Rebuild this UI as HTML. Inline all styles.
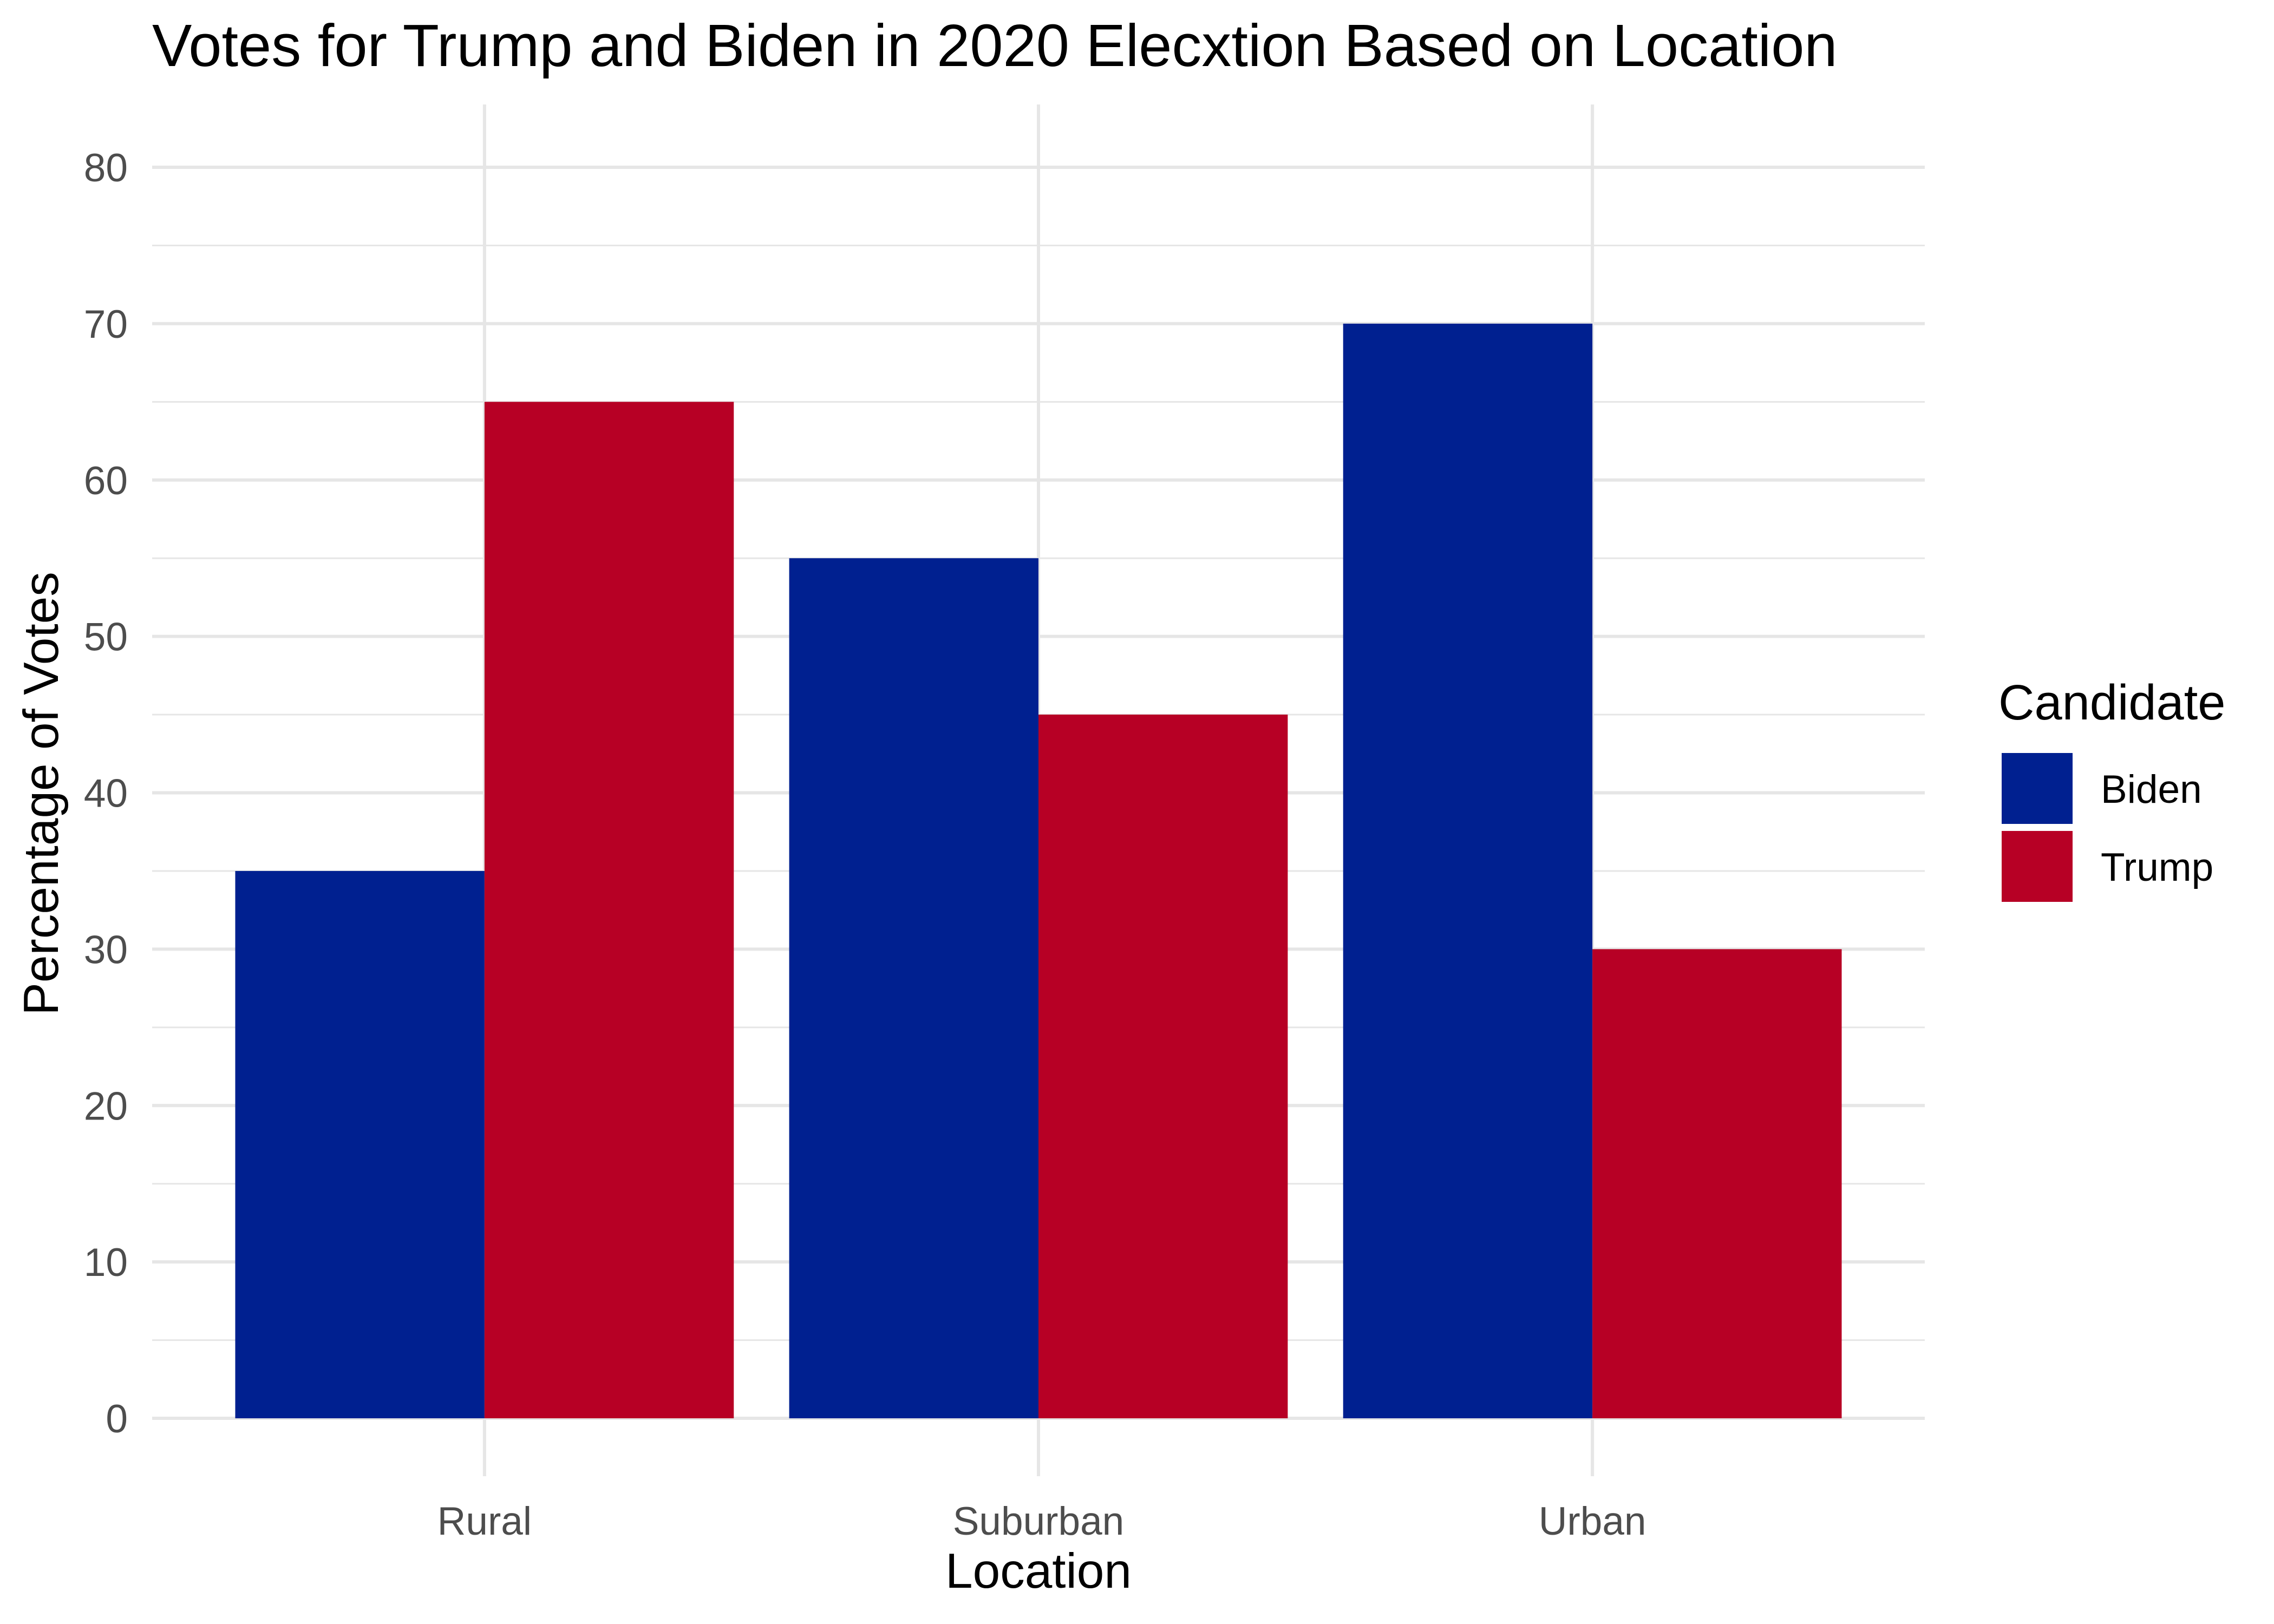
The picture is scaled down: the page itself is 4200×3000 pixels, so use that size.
<!DOCTYPE html>
<html><head><meta charset="utf-8"><style>
html,body{margin:0;padding:0;background:#fff;}
svg{display:block;font-family:"Liberation Sans",Arial,sans-serif;}
</style></head><body>
<svg id="chart" width="4200" height="3000" viewBox="0 0 4200 3000">
<text x="281" y="122" font-size="110" fill="#000">Votes for Trump and Biden in 2020 Elecxtion Based on Location</text>
<g id="grid"></g>
<g id="bars"></g>
<g id="yticks"></g>
<g id="xticks"></g>
<text x="1918" y="2933" font-size="91" text-anchor="middle" fill="#000">Location</text>
<text transform="translate(107,1466) rotate(-90)" font-size="91" text-anchor="middle" fill="#000">Percentage of Votes</text>
<g>
<text x="3691" y="1329" font-size="92" fill="#000">Candidate</text>
<rect x="3697" y="1391" width="131" height="131" fill="#002090"/>
<text x="3880" y="1483" font-size="73" fill="#000">Biden</text>
<rect x="3697" y="1535" width="131" height="131" fill="#b70025"/>
<text x="3880" y="1627" font-size="73" fill="#000">Trump</text>
</g>
</svg>
<script>
const categories = ["Rural","Suburban","Urban"];
const bidenValues = [35,55,70];
const trumpValues = [65,45,30];
const yTicks = [0,10,20,30,40,50,60,70,80];
const NS="http://www.w3.org/2000/svg";
const pLeft=281,pRight=3555,pTop=193,pBottom=2727;
const y0=2620,y80=309;
function yScale(v){return y0+(y80-y0)*v/80;}
const unit=(pRight-pLeft)/(categories.length+0.2);
function xScale(i){return pLeft+unit*(i+0.6);}
const barW=unit*0.45;
function mk(tag,attrs,parent){const e=document.createElementNS(NS,tag);for(const k in attrs)e.setAttribute(k,attrs[k]);parent.appendChild(e);return e;}
const grid=document.getElementById('grid');
for(let v=5;v<=85;v+=10){const y=yScale(v);if(y<pTop)continue;
 const l=mk('line',{x1:pLeft,x2:pRight,y1:y,y2:y,stroke:'#e6e6e6','stroke-width':3},grid);
 
 }
yTicks.forEach(v=>{const y=yScale(v);
 const l=mk('line',{x1:pLeft,x2:pRight,y1:y,y2:y,stroke:'#e6e6e6','stroke-width':6},grid);
 
 
 const t=mk('text',{x:236,y:y+26,'font-size':73,'text-anchor':'end',fill:'#4d4d4d'},document.getElementById('yticks'));
 t.textContent=v;
 
 });
categories.forEach((c,i)=>{const x=xScale(i);
 const l=mk('line',{x1:x,x2:x,y1:pTop,y2:pBottom,stroke:'#e6e6e6','stroke-width':6},grid);
 
 
 const t=mk('text',{x:x,y:2835,'font-size':73,'text-anchor':'middle',fill:'#4d4d4d'},document.getElementById('xticks'));
 t.textContent=c;
 
 });
const bars=document.getElementById('bars');
categories.forEach((c,i)=>{const x=xScale(i);
 const b=mk('rect',{x:x-barW,y:yScale(bidenValues[i]),width:barW,height:y0-yScale(bidenValues[i]),fill:'#002090'},bars);
 
 
 const r=mk('rect',{x:x,y:yScale(trumpValues[i]),width:barW,height:y0-yScale(trumpValues[i]),fill:'#b70025'},bars);
 
 });
</script>
</body></html>
